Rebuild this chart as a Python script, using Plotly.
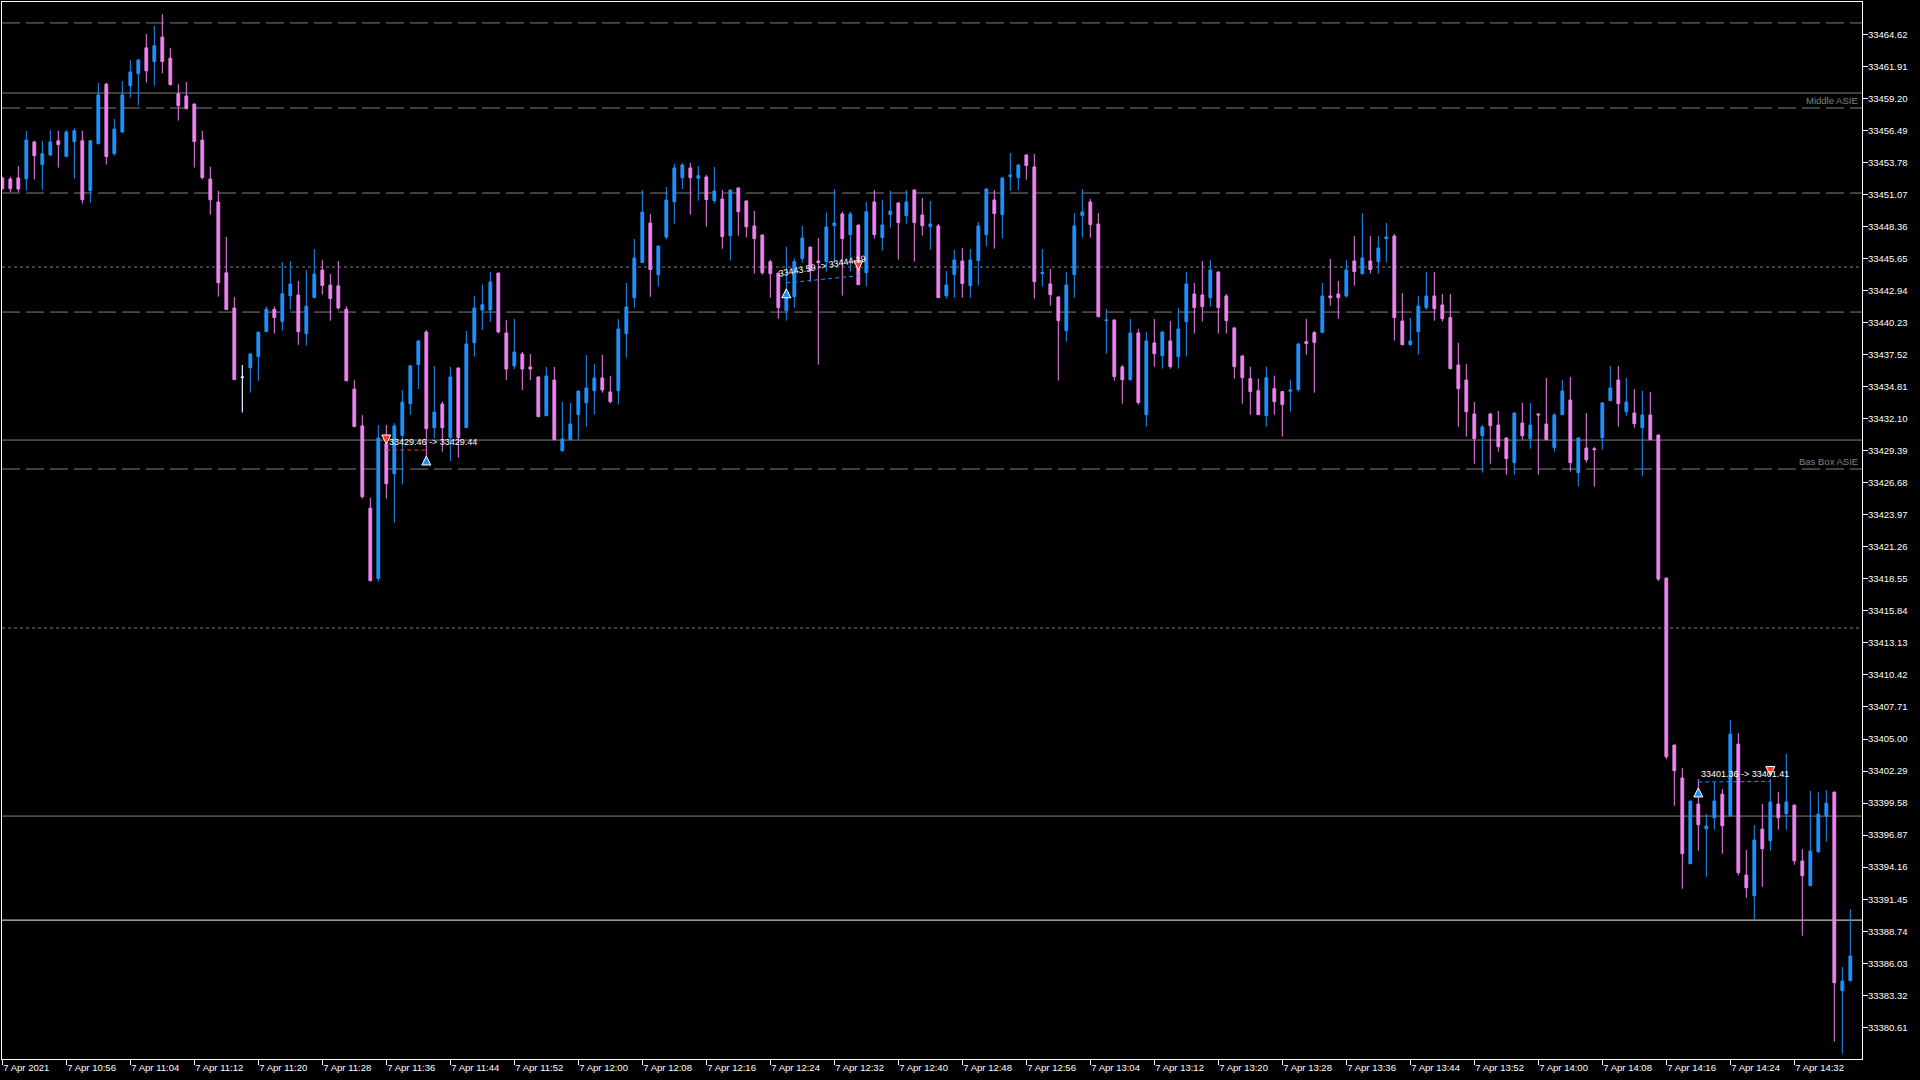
import pandas as pd
import plotly.graph_objects as go

# ---------------- data ----------------
times = list(pd.date_range("2021-04-07 10:48", periods=232, freq="min").strftime("%H:%M"))

opens = [
    33452.47, 33452.37, 33452.47, 33452.40, 33455.51, 33453.60, 33454.41, 33455.61, 33454.28, 33455.54,
    33455.61, 33451.40, 33455.38, 33460.40, 33454.51, 33456.35, 33460.27, 33461.30, 33463.47, 33462.31,
    33464.38, 33462.60, 33459.59, 33459.40, 33458.72, 33455.67, 33452.37, 33450.43, 33444.44, 33441.46,
    33435.60, 33436.41, 33437.35, 33439.46, 33441.36, 33440.33, 33442.50, 33442.56, 33439.29, 33442.34,
    33444.67, 33443.40, 33443.34, 33441.36, 33434.60, 33431.49, 33424.53, 33418.58, 33429.97, 33427.45,
    33430.68, 33433.37, 33436.67, 33439.43, 33431.34, 33433.34, 33430.49, 33436.39, 33431.34, 33438.53,
    33441.29, 33441.29, 33444.42, 33439.35, 33436.56, 33437.57, 33436.47, 33435.63, 33432.35, 33435.37,
    33429.39, 33430.32, 33432.44, 33433.45, 33434.47, 33435.54, 33434.36, 33434.47, 33439.29, 33442.34,
    33445.30, 33448.65, 33444.28, 33447.47, 33450.46, 33452.49, 33453.31, 33452.43, 33452.55, 33450.54,
    33450.68, 33447.58, 33451.62, 33450.52, 33448.40, 33447.64, 33445.38, 33444.42, 33441.24, 33442.42,
    33445.64, 33446.62, 33445.44, 33445.38, 33448.43, 33449.42, 33447.67, 33448.48, 33444.45, 33450.43,
    33447.42, 33449.36, 33450.35, 33449.28, 33451.45, 33449.33, 33448.35, 33448.40, 33442.51, 33444.29,
    33445.44, 33443.36, 33445.47, 33447.67, 33450.60, 33449.36, 33452.58, 33452.49, 33454.41, 33453.40,
    33444.37, 33443.50, 33442.40, 33439.55, 33444.29, 33449.28, 33450.43, 33448.57, 33440.40, 33440.45,
    33436.48, 33435.40, 33439.35, 33432.44, 33438.51, 33437.43, 33438.68, 33437.35, 33440.31, 33442.65,
    33442.57, 33442.34, 33444.51, 33442.48, 33439.78, 33437.41, 33435.49, 33434.47, 33432.36, 33434.64,
    33434.39, 33434.42, 33434.56, 33438.62, 33439.38, 33439.38, 33442.48, 33442.65, 33442.48, 33445.44,
    33444.37, 33445.44, 33445.38, 33447.33, 33447.55, 33440.36, 33438.36, 33439.46, 33441.49, 33442.48,
    33441.72, 33440.65, 33436.64, 33435.37, 33432.50, 33430.66, 33432.50, 33431.56, 33430.47, 33428.38,
    33431.73, 33430.41, 33432.50, 33431.65, 33429.65, 33432.44, 33433.68, 33427.53, 33429.62, 33429.56,
    33430.49, 33433.62, 33435.37, 33432.69, 33432.58, 33431.34, 33432.41, 33430.72, 33418.62, 33404.49,
    33401.70, 33394.45, 33399.50, 33397.41, 33398.34, 33400.34, 33398.48, 33404.57, 33393.49, 33391.74,
    33397.38, 33396.40, 33399.50, 33398.68, 33399.41, 33394.68, 33392.59, 33395.46, 33398.48, 33400.51,
    33383.71, 33384.55,
]
highs = [
    33452.56, 33452.56, 33453.47, 33456.45, 33455.61, 33455.61, 33456.51, 33456.45, 33456.51, 33456.68,
    33456.45, 33455.67, 33460.50, 33460.50, 33457.45, 33460.66, 33462.44, 33462.54, 33464.64, 33465.32,
    33466.32, 33463.47, 33460.40, 33460.59, 33458.75, 33456.45, 33453.41, 33451.37, 33447.48, 33442.40,
    33436.64, 33437.60, 33439.45, 33441.59, 33441.59, 33445.35, 33445.44, 33443.76, 33444.67, 33446.45,
    33445.54, 33444.34, 33445.44, 33441.62, 33435.38, 33432.40, 33425.41, 33431.56, 33431.56, 33431.72,
    33434.53, 33436.60, 33438.70, 33439.60, 33436.56, 33433.54, 33436.47, 33436.42, 33439.52, 33442.48,
    33443.44, 33444.51, 33444.45, 33440.45, 33440.53, 33437.74, 33437.57, 33435.66, 33436.47, 33436.47,
    33433.51, 33433.43, 33434.47, 33437.49, 33436.73, 33437.49, 33435.71, 33440.53, 33443.58, 33447.30,
    33451.45, 33449.42, 33446.74, 33451.70, 33453.65, 33453.73, 33453.73, 33453.48, 33452.71, 33453.39,
    33451.45, 33451.48, 33451.65, 33450.55, 33449.67, 33447.67, 33445.55, 33444.45, 33446.65, 33445.66,
    33448.40, 33446.65, 33447.39, 33449.53, 33451.53, 33449.61, 33449.61, 33448.51, 33450.43, 33451.45,
    33450.60, 33451.37, 33450.38, 33451.45, 33451.48, 33450.77, 33450.52, 33448.57, 33444.60, 33446.37,
    33446.54, 33446.46, 33448.74, 33451.62, 33451.45, 33452.50, 33454.58, 33453.59, 33454.44, 33454.50,
    33446.46, 33444.77, 33442.43, 33444.51, 33449.50, 33451.53, 33450.69, 33449.50, 33441.38, 33440.48,
    33436.64, 33440.54, 33439.69, 33439.44, 33440.54, 33439.47, 33440.37, 33441.47, 33444.51, 33443.58,
    33445.44, 33445.53, 33444.54, 33442.65, 33439.81, 33437.44, 33436.50, 33435.49, 33436.50, 33435.74,
    33434.42, 33435.40, 33438.51, 33440.54, 33439.52, 33443.58, 33445.61, 33443.75, 33445.52, 33447.55,
    33449.50, 33447.55, 33447.55, 33448.65, 33447.72, 33442.73, 33440.62, 33442.48, 33444.51, 33444.51,
    33442.65, 33442.65, 33438.50, 33436.73, 33433.51, 33431.56, 33432.58, 33432.75, 33430.50, 33432.61,
    33433.43, 33433.43, 33432.53, 33435.54, 33432.58, 33435.37, 33435.63, 33430.50, 33432.58, 33429.70,
    33433.51, 33436.56, 33436.56, 33435.54, 33434.61, 33434.44, 33434.36, 33430.75, 33418.65, 33404.52,
    33402.54, 33399.78, 33401.61, 33398.65, 33401.39, 33400.77, 33406.60, 33405.50, 33395.61, 33397.72,
    33399.50, 33401.61, 33400.51, 33403.73, 33399.44, 33395.69, 33400.60, 33400.51, 33400.68, 33400.54,
    33385.71, 33390.61,
]
lows = [
    33451.46, 33451.27, 33451.27, 33451.40, 33452.34, 33451.46, 33454.31, 33453.34, 33454.25, 33452.40,
    33450.30, 33450.36, 33455.28, 33453.60, 33454.35, 33456.29, 33459.27, 33458.59, 33460.53, 33460.27,
    33461.30, 33460.27, 33457.32, 33458.26, 33453.34, 33452.34, 33449.36, 33442.43, 33441.30, 33435.38,
    33432.63, 33434.31, 33435.31, 33439.43, 33439.29, 33439.55, 33441.33, 33438.35, 33438.29, 33442.31,
    33442.60, 33440.39, 33441.33, 33435.28, 33431.40, 33425.34, 33418.32, 33418.32, 33425.34, 33423.30,
    33426.54, 33432.43, 33434.61, 33428.40, 33430.44, 33429.31, 33428.50, 33428.80, 33431.31, 33437.35,
    33439.60, 33440.28, 33439.32, 33435.37, 33436.30, 33434.53, 33435.37, 33432.24, 33432.32, 33430.29,
    33429.31, 33430.29, 33430.32, 33431.42, 33432.44, 33434.30, 33433.40, 33433.29, 33437.26, 33441.49,
    33445.27, 33442.42, 33443.27, 33447.27, 33448.60, 33451.53, 33449.36, 33450.54, 33448.34, 33450.29,
    33446.48, 33445.47, 33447.58, 33447.44, 33444.37, 33444.28, 33442.34, 33440.56, 33440.39, 33441.49,
    33445.30, 33443.69, 33436.67, 33444.54, 33445.30, 33442.51, 33444.54, 33443.41, 33443.27, 33447.33,
    33446.32, 33448.26, 33445.56, 33448.60, 33445.39, 33447.59, 33446.40, 33442.31, 33442.26, 33442.34,
    33442.34, 33442.34, 33443.36, 33446.66, 33446.49, 33447.33, 33451.37, 33451.45, 33452.32, 33442.26,
    33443.27, 33441.66, 33435.32, 33438.62, 33442.34, 33447.42, 33447.42, 33440.70, 33437.60, 33435.32,
    33433.37, 33435.32, 33433.29, 33431.43, 33436.50, 33436.33, 33436.33, 33436.33, 33437.35, 33439.30,
    33440.31, 33441.58, 33439.30, 33439.30, 33435.49, 33433.37, 33432.44, 33432.41, 33431.43, 33432.44,
    33430.58, 33432.70, 33434.39, 33437.52, 33434.30, 33439.35, 33441.66, 33440.56, 33442.34, 33443.35,
    33444.28, 33444.37, 33444.37, 33445.30, 33438.70, 33438.33, 33438.28, 33437.52, 33441.32, 33440.39,
    33440.31, 33436.30, 33431.42, 33430.58, 33428.29, 33427.53, 33428.29, 33429.31, 33427.36, 33427.36,
    33430.32, 33429.56, 33427.36, 33430.29, 33429.31, 33432.41, 33427.62, 33426.35, 33428.38, 33426.35,
    33429.48, 33433.59, 33431.42, 33432.35, 33431.34, 33427.28, 33430.29, 33418.36, 33403.30, 33399.36,
    33392.33, 33394.42, 33395.55, 33393.35, 33397.33, 33395.30, 33398.45, 33393.46, 33391.57, 33389.68,
    33392.50, 33395.55, 33397.33, 33397.33, 33394.37, 33388.36, 33392.56, 33395.38, 33396.31, 33379.39,
    33378.38, 33384.52,
]
closes = [
    33451.56, 33451.56, 33451.53, 33455.67, 33454.35, 33454.51, 33455.51, 33455.28, 33456.35, 33456.45,
    33450.62, 33455.61, 33459.49, 33454.28, 33456.61, 33459.49, 33461.43, 33462.44, 33461.53, 33463.64,
    33462.31, 33460.37, 33458.59, 33458.33, 33455.54, 33452.50, 33450.62, 33443.60, 33441.33, 33435.41,
    33435.60, 33437.58, 33439.42, 33441.36, 33440.65, 33442.66, 33443.50, 33439.46, 33441.62, 33444.34,
    33443.37, 33442.27, 33441.46, 33435.31, 33431.43, 33425.50, 33418.41, 33430.46, 33426.60, 33431.49,
    33433.50, 33436.57, 33438.68, 33431.25, 33432.66, 33431.34, 33435.63, 33430.49, 33438.42, 33441.46,
    33441.75, 33443.66, 33439.43, 33436.30, 33437.74, 33436.30, 33436.30, 33432.27, 33435.71, 33430.32,
    33430.38, 33431.65, 33434.44, 33434.70, 33435.54, 33434.53, 33433.54, 33439.69, 33441.55, 33445.69,
    33449.58, 33444.71, 33446.71, 33450.60, 33453.31, 33453.56, 33452.49, 33452.66, 33450.63, 33451.36,
    33447.50, 33451.45, 33449.61, 33448.34, 33447.33, 33444.45, 33444.37, 33441.49, 33442.48, 33445.38,
    33447.39, 33444.62, 33445.30, 33448.32, 33448.65, 33447.33, 33449.42, 33443.44, 33449.61, 33447.67,
    33448.49, 33449.67, 33448.69, 33450.43, 33448.69, 33448.43, 33448.57, 33442.34, 33443.41, 33445.53,
    33443.53, 33445.53, 33448.40, 33451.53, 33449.45, 33452.47, 33452.72, 33453.56, 33453.51, 33443.69,
    33444.46, 33442.60, 33440.40, 33443.41, 33448.40, 33449.59, 33448.52, 33440.73, 33440.45, 33435.66,
    33435.40, 33439.35, 33433.46, 33438.68, 33437.60, 33439.44, 33436.50, 33439.69, 33443.50, 33441.50,
    33441.58, 33444.68, 33441.50, 33440.40, 33436.50, 33435.57, 33434.39, 33432.44, 33435.57, 33433.54,
    33433.29, 33434.53, 33438.42, 33438.45, 33438.56, 33442.48, 33442.34, 33442.34, 33444.68, 33444.54,
    33445.69, 33444.71, 33446.54, 33447.47, 33440.65, 33438.36, 33438.67, 33441.63, 33442.48, 33441.41,
    33440.56, 33436.33, 33434.64, 33432.69, 33430.41, 33431.40, 33431.51, 33429.73, 33428.72, 33432.58,
    33430.66, 33431.56, 33432.41, 33430.32, 33432.41, 33434.44, 33428.38, 33430.47, 33428.63, 33429.48,
    33433.43, 33434.70, 33433.37, 33433.51, 33431.68, 33432.41, 33430.32, 33418.53, 33403.50, 33402.32,
    33395.30, 33399.75, 33397.75, 33397.64, 33399.75, 33397.66, 33405.42, 33393.69, 33392.42, 33396.45,
    33395.72, 33399.67, 33398.34, 33399.67, 33394.70, 33393.43, 33395.52, 33398.65, 33399.58, 33384.38,
    33384.52, 33386.64,
]

# candles where open == close (drawn in the neutral/white colour)
doji_idx = [30]

x_tick_labels = [
    "7 Apr 2021", "7 Apr 10:56", "7 Apr 11:04", "7 Apr 11:12", "7 Apr 11:20", "7 Apr 11:28",
    "7 Apr 11:36", "7 Apr 11:44", "7 Apr 11:52", "7 Apr 12:00", "7 Apr 12:08", "7 Apr 12:16",
    "7 Apr 12:24", "7 Apr 12:32", "7 Apr 12:40", "7 Apr 12:48", "7 Apr 12:56", "7 Apr 13:04",
    "7 Apr 13:12", "7 Apr 13:20", "7 Apr 13:28", "7 Apr 13:36", "7 Apr 13:44", "7 Apr 13:52",
    "7 Apr 14:00", "7 Apr 14:08", "7 Apr 14:16", "7 Apr 14:24", "7 Apr 14:32",
]
y_tick_labels = [
    "33464.62", "33461.91", "33459.20", "33456.49", "33453.78", "33451.07", "33448.36", "33445.65",
    "33442.94", "33440.23", "33437.52", "33434.81", "33432.10", "33429.39", "33426.68", "33423.97",
    "33421.26", "33418.55", "33415.84", "33413.13", "33410.42", "33407.71", "33405.00", "33402.29",
    "33399.58", "33396.87", "33394.16", "33391.45", "33388.74", "33386.03", "33383.32", "33380.61",
]

# horizontal level objects
dashed_levels = [33465.58, 33458.38, 33451.19, 33441.12, 33427.84]
dotted_levels = [33444.93, 33414.39]
solid_levels = [33459.65, 33430.29, 33398.48]
cream_levels = [33389.68]
level_labels = ["Middle ASIE", "Bas Box ASIE"]
level_label_prices = [33458.38, 33427.84]

# trade history
trade_entry_idx = [48, 98, 212]
trade_exit_idx = [53, 107, 221]
trade_entry_price = [33429.46, 33443.59, 33401.36]
trade_exit_price = [33429.44, 33444.19, 33401.41]
trade_side = ["sell", "buy", "buy"]

# ---------------- style ----------------
BLUE = "#1E90FF"
PINK = "#EE82EE"
GREY = "#808080"
CREAM = "#FFF2DC"
RED = "#FF3A1A"
FONT = "Liberation Sans"

fig = go.Figure()

fig.add_trace(go.Candlestick(
    x=times, open=opens, high=highs, low=lows, close=closes,
    increasing=dict(line=dict(color=BLUE, width=1), fillcolor=BLUE),
    decreasing=dict(line=dict(color=PINK, width=1), fillcolor=PINK),
    whiskerwidth=0, showlegend=False,
))
fig.add_trace(go.Candlestick(
    x=[times[i] for i in doji_idx],
    open=[opens[i] for i in doji_idx], high=[highs[i] for i in doji_idx],
    low=[lows[i] for i in doji_idx], close=[closes[i] for i in doji_idx],
    increasing=dict(line=dict(color="white", width=1), fillcolor="white"),
    decreasing=dict(line=dict(color="white", width=1), fillcolor="white"),
    whiskerwidth=0, showlegend=False,
))

# level lines
for p in dashed_levels:
    fig.add_shape(type="line", xref="paper", x0=0, x1=1, yref="y", y0=p, y1=p,
                  line=dict(color=GREY, width=1, dash="18px,6px"), layer="below")
for p in dotted_levels:
    fig.add_shape(type="line", xref="paper", x0=0, x1=1, yref="y", y0=p, y1=p,
                  line=dict(color=GREY, width=1, dash="3px,3px"), layer="below")
for p in solid_levels:
    fig.add_shape(type="line", xref="paper", x0=0, x1=1, yref="y", y0=p, y1=p,
                  line=dict(color=GREY, width=1), layer="below")
for p in cream_levels:
    fig.add_shape(type="line", xref="paper", x0=0, x1=1, yref="y", y0=p, y1=p,
                  line=dict(color=CREAM, width=1), layer="below")

for txt, p in zip(level_labels, level_label_prices):
    fig.add_annotation(text=txt, xref="paper", x=1, xanchor="right", xshift=-2,
                       yref="y", y=p, yanchor="bottom", yshift=0, showarrow=False,
                       font=dict(family=FONT, size=9.5, color=GREY))

# trades
arrow_off = 0.5
for k in range(len(trade_entry_idx)):
    e, x_ = trade_entry_idx[k], trade_exit_idx[k]
    pe, px = trade_entry_price[k], trade_exit_price[k]
    col = RED if trade_side[k] == "sell" else BLUE
    fig.add_trace(go.Scatter(x=[times[e], times[x_]], y=[pe, px], mode="lines",
                             line=dict(color=col, width=1, dash="4px,3px"),
                             showlegend=False, hoverinfo="skip"))
    if trade_side[k] == "buy":
        my = [pe - arrow_off, px + arrow_off]
        sym = ["arrow-up", "arrow-down"]
        mc = [BLUE, RED]
    else:
        my = [pe + arrow_off, px - arrow_off]
        sym = ["arrow-down", "arrow-up"]
        mc = [RED, BLUE]
    fig.add_trace(go.Scatter(x=[times[e], times[x_]], y=my, mode="markers",
                             marker=dict(symbol=sym, size=9, color=mc,
                                         line=dict(color="white", width=1)),
                             showlegend=False, hoverinfo="skip"))
    label = f"{pe:.2f} -> {px:.2f}"
    if k == 1:
        fig.add_annotation(text=label, xref="x", x=(e + x_) / 2, yref="y", y=(pe + px) / 2,
                           xanchor="center", yanchor="middle", yshift=13, textangle=-10,
                           showarrow=False, font=dict(family=FONT, size=9, color="white"))
    else:
        fig.add_annotation(text=label, xref="x", x=times[e], yref="y", y=pe,
                           xanchor="left", yanchor="bottom", xshift=1, yshift=1,
                           showarrow=False, font=dict(family=FONT, size=9, color="white"))

fig.update_layout(
    width=1920, height=1080,
    margin=dict(l=2, r=58, t=2, b=21, pad=0),
    paper_bgcolor="black", plot_bgcolor="black",
    showlegend=False, hovermode=False, boxgap=0.5,
    font=dict(family=FONT, color="white", size=9.5),
    xaxis=dict(
        type="category", categoryorder="array", categoryarray=times,
        range=[-0.04, 232.46], rangeslider=dict(visible=False),
        showgrid=False, zeroline=False,
        showline=True, linecolor="white", linewidth=1, mirror=True,
        ticks="outside", ticklen=5, tickwidth=1, tickcolor="white",
        tickvals=times[::8], ticktext=x_tick_labels,
        ticklabelposition="outside right",
        tickfont=dict(family=FONT, size=9.5, color="white"),
    ),
    yaxis=dict(
        side="right", range=[33377.93, 33467.35],
        showgrid=False, zeroline=False,
        showline=True, linecolor="white", linewidth=1, mirror=True,
        ticks="outside", ticklen=5, tickwidth=1, tickcolor="white",
        ticklabelstandoff=-2,
        tickvals=[float(v) for v in y_tick_labels], ticktext=y_tick_labels,
        tickfont=dict(family=FONT, size=9.5, color="white"),
    ),
)

fig.write_html("out.html", config={"displayModeBar": False},
               post_script="document.body.style.margin='0';document.body.style.overflow='hidden';")
